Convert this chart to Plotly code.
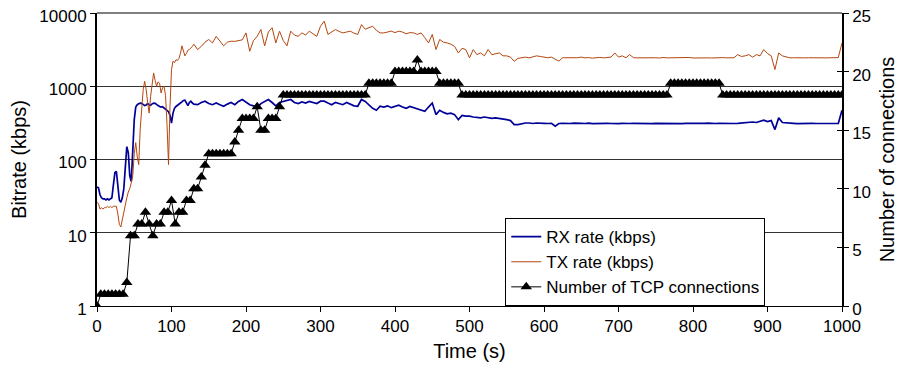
import plotly.graph_objects as go

# time grids (s)
t_rate = list(range(0, 131, 2)) + list(range(135, 1001, 5))
t_tcp = list(range(0, 1001, 5))

rx_rate = [
    # 0..130 step 2
    42, 41, 33, 30, 29, 29, 28, 29, 28, 29, 30,
    45, 66, 69, 40, 28, 26, 30, 40, 70, 150,
    124, 60, 50, 151, 350, 520, 560, 575, 590, 585,
    570, 545, 555, 580, 560, 550, 575, 590, 585, 560,
    545, 530, 520, 525, 505, 490, 480, 450, 400, 315,
    430, 500, 530, 545, 560, 590, 610, 640, 645, 580,
    545, 600, 625, 590, 570,
    # 135..1000 step 5
    560, 600, 625, 580, 560, 590, 560, 533, 570, 600,
    560, 620, 660, 600, 560, 540, 510, 580, 620, 660,
    600, 540, 600, 620, 640, 660, 600, 580, 610, 590,
    620, 600, 580, 625, 625, 590, 560, 600, 580, 560,
    600, 570, 540, 533, 660, 620, 560, 500, 470, 533,
    520, 540, 510, 530, 550, 520, 500, 530, 510, 500,
    480, 455, 520, 590, 410, 470, 440, 420, 430, 410,
    350, 400, 390, 390, 380, 375, 370, 380, 370, 365,
    370, 365, 355, 350, 340, 300, 300, 310, 315, 315,
    310, 315, 310, 312, 310, 312, 285, 310, 312, 308,
    310, 314, 309, 311, 310, 313, 308, 310, 312, 309,
    311, 310, 313, 309, 311, 308, 310, 312, 310, 309,
    312, 310, 308, 311, 310, 313, 309, 310, 312, 310,
    309, 311, 310, 312, 308, 310, 311, 313, 309, 310,
    312, 310, 309, 311, 310, 312, 315, 320, 318, 325,
    320, 330, 345, 330, 340, 256, 370, 320, 315, 310,
    312, 309, 311, 310, 308, 312, 310, 309, 311, 310,
    312, 309, 311, 470,
]

tx_rate = [
    # 0..130 step 2
    26, 25, 21, 22, 21, 22, 22, 23, 22, 23, 22,
    23, 23, 23, 18, 13, 12, 15, 20, 26, 30,
    36, 40, 48, 60, 120, 170, 110, 85, 260, 550,
    900, 1170, 900, 600, 430, 730, 1000, 1520, 1200, 1000,
    1150, 1100, 810, 950, 1000, 750, 300, 85, 530, 1690,
    2200, 2100, 2300, 2250, 2400, 2800, 3560, 3000, 2600, 2800,
    3100, 3170, 3300, 3500, 3750,
    # 135..1000 step 5
    3170, 3500, 4000, 4350, 3900, 4800, 4200, 3560, 4000, 4120,
    4100, 4200, 4300, 5350, 3000, 4200, 4800, 5950, 3560, 5500,
    6300, 3900, 5650, 4200, 3560, 5650, 5000, 4800, 5350, 5000,
    5650, 5200, 4800, 6600, 7740, 5100, 5500, 5950, 5600, 5350,
    5500, 5650, 5300, 5100, 6930, 6000, 6300, 6600, 5800, 5350,
    5350, 5500, 5650, 5400, 5650, 5500, 5200, 5400, 5350, 5100,
    5350, 4600, 3900, 5100, 3170, 4350, 4000, 3900, 3750, 3500,
    2850, 3300, 3170, 2440, 3170, 2700, 2850, 2600, 3170, 2700,
    2800, 2850, 2600, 2600, 2500, 2190, 2400, 2440, 2500, 2440,
    2500, 2600, 2550, 2500, 2450, 2500, 2350, 2200, 2450, 2440,
    2480, 2420, 2450, 2500, 2440, 2460, 2420, 2450, 2480, 2440,
    2450, 2500, 2850, 2500, 2600, 2450, 2700, 2460, 2440, 2450,
    2420, 2460, 2440, 2450, 2430, 2470, 2440, 2450, 2420, 2460,
    2440, 2450, 2470, 2430, 2440, 2460, 2450, 2440, 2430, 2450,
    2440, 2460, 2440, 2450, 2450, 2700, 2550, 2600, 2700, 2500,
    2700, 2600, 3170, 2800, 2600, 1690, 2850, 2600, 2500, 2440,
    2450, 2430, 2460, 2440, 2450, 2440, 2460, 2430, 2450, 2440,
    2450, 2440, 2460, 3900,
]

tcp_conn = [
    0, 1, 1, 1, 1, 1, 1, 1, 2, 6,
    6, 7, 7, 8, 7, 6, 7, 7, 8, 8,
    9, 7, 8, 8, 9, 9, 10, 10, 11, 12,
    13, 13, 13, 13, 13, 13, 13, 14, 15, 16,
    16, 16, 16, 17, 15, 15, 16, 16, 16, 17,
    18, 18, 18, 18, 18, 18, 18, 18, 18, 18,
    18, 18, 18, 18, 18, 18, 18, 18, 18, 18,
    18, 18, 18, 19, 19, 19, 19, 19, 19, 19,
    20, 20, 20, 20, 20, 20, 21, 20, 20, 20,
    20, 20, 19, 19, 19, 19, 19, 19, 18, 18,
    18, 18, 18, 18, 18, 18, 18, 18, 18, 18,
    18, 18, 18, 18, 18, 18, 18, 18, 18, 18,
    18, 18, 18, 18, 18, 18, 18, 18, 18, 18,
    18, 18, 18, 18, 18, 18, 18, 18, 18, 18,
    18, 18, 18, 18, 18, 18, 18, 18, 18, 18,
    18, 18, 18, 18, 19, 19, 19, 19, 19, 19,
    19, 19, 19, 19, 19, 19, 19, 19, 18, 18,
    18, 18, 18, 18, 18, 18, 18, 18, 18, 18,
    18, 18, 18, 18, 18, 18, 18, 18, 18, 18,
    18, 18, 18, 18, 18, 18, 18, 18, 18, 18,
    18,
]

x_ticks = list(range(0, 1001, 100))
y_ticks = [1, 10, 100, 1000, 10000]
y_ticklabels = ["1", "10", "100", "1000", "10000"]
y2_ticks = [0, 5, 10, 15, 20, 25]

FONT = "Liberation Sans, Arial, sans-serif"

fig = go.Figure()
fig.add_trace(go.Scatter(
    x=t_rate, y=rx_rate, name="RX rate (kbps)", mode="lines",
    line=dict(color="#000099", width=1.7)))
fig.add_trace(go.Scatter(
    x=t_rate, y=tx_rate, name="TX rate (kbps)", mode="lines",
    line=dict(color="#b5460f", width=1)))
fig.add_trace(go.Scatter(
    x=t_tcp, y=tcp_conn, name="Number of TCP connections", mode="lines+markers",
    yaxis="y2", line=dict(color="#000000", width=1),
    marker=dict(symbol="triangle-up", size=10, color="#000000", line=dict(width=0))))
fig.add_trace(go.Scatter(x=[], y=[], yaxis="y3", showlegend=False, hoverinfo="skip"))

# page body has an 8px default margin: figure is sized/offset to compensate
fig.update_layout(
    width=900, height=370,
    margin=dict(l=89, r=66, t=5, b=72),
    paper_bgcolor="white", plot_bgcolor="white",
    font=dict(family=FONT, size=17, color="black"),
    showlegend=True,
    legend=dict(x=0.548, y=0.30, xanchor="left", yanchor="top",
                bgcolor="white", bordercolor="black", borderwidth=1,
                font=dict(size=17), tracegroupgap=0),
    xaxis=dict(range=[0, 1000], tickvals=x_ticks, ticks="outside", ticklen=5,
               tickcolor="black", showline=True, linecolor="black", linewidth=1,
               showgrid=False, zeroline=False, automargin=False,
               ticklabeloverflow="allow",
               title=dict(text="Time (s)", standoff=8)),
    yaxis=dict(type="log", range=[0, 4], tickvals=y_ticks, ticktext=y_ticklabels,
               ticks="outside", ticklen=5, tickcolor="black",
               showline=True, linecolor="black", linewidth=2,
               showgrid=True, gridcolor="#333333", gridwidth=1, zeroline=False,
               automargin=False, ticklabeloverflow="allow", ticklabelshift=3,
               title=dict(text="Bitrate (kbps)", standoff=10)),
    yaxis2=dict(overlaying="y", side="right", range=[0, 25], tickvals=y2_ticks,
                ticks="outside", ticklen=5, tickcolor="black",
                showline=True, linecolor="black", linewidth=1.5,
                showgrid=False, zeroline=False, automargin=False,
                ticklabeloverflow="allow", ticklabelshift=3,
                title=dict(text="Number of connections", standoff=10)),
    yaxis3=dict(overlaying="y", side="right", range=[0, 25], tickvals=y2_ticks,
                ticks="inside", ticklen=5, tickcolor="black", showticklabels=False,
                showline=False, showgrid=False, zeroline=False, automargin=False),
    shapes=[dict(type="line", xref="paper", yref="paper", x0=0, x1=1, y0=1, y1=1,
                 line=dict(color="#555555", width=1.5))],
)

fig.write_html("out.html")
